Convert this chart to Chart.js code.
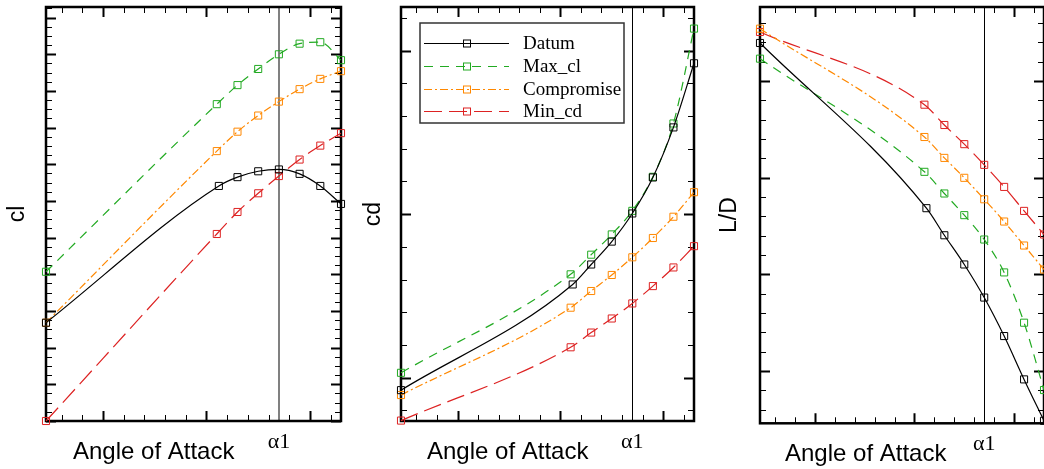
<!DOCTYPE html>
<html>
<head>
<meta charset="utf-8">
<script src="https://cdn.jsdelivr.net/npm/chart.js@4.4.1/dist/chart.umd.min.js"></script>
<style>
  html, body { margin: 0; padding: 0; background: #fff; overflow: hidden; }
  #wrap { position: relative; width: 1044px; height: 469px; overflow: hidden; }
  canvas { position: absolute; top: 0; }
</style>
</head>
<body>
<div id="wrap">
  <canvas id="clChart" width="350" height="469" style="left:0px"></canvas>
  <canvas id="cdChart" width="355" height="469" style="left:350px"></canvas>
  <canvas id="ldChart" width="345" height="469" style="left:705px"></canvas>
</div>
<script>
// Datos
const seriesNames = ['Datum', 'Max_cl', 'Compromise', 'Min_cd'];
const anglesDatum = [-2.75, 5.6, 6.5, 7.5, 8.5, 9.5, 10.5, 11.5];
const angles = [-2.75, 5.5, 6.5, 7.5, 8.5, 9.5, 10.5, 11.5];
const alpha1 = 8.5;
const alphaLabel = 'α1';
const xTitle = 'Angle of Attack';

const clDatum = [2.68, 6.41, 6.65, 6.81, 6.86, 6.74, 6.41, 5.92];
const clMax = [4.07, 8.64, 9.16, 9.60, 10.00, 10.29, 10.33, 9.84];
const clComp = [2.68, 7.36, 7.89, 8.33, 8.71, 9.05, 9.33, 9.54];
const clMinCd = [0.0, 5.10, 5.70, 6.21, 6.68, 7.13, 7.51, 7.85];

const cdDatum = [-0.38, 2.85, 3.46, 4.16, 5.02, 6.12, 7.65, 9.61];
const cdMax = [0.15, 3.16, 3.76, 4.38, 5.10, 6.14, 7.77, 10.67];
const cdComp = [-0.53, 2.14, 2.65, 3.14, 3.68, 4.27, 4.92, 5.67];
const cdMinCd = [-1.31, 0.93, 1.38, 1.81, 2.27, 2.80, 3.37, 4.02];

const ldDatum = [16.96, 8.42, 7.02, 5.51, 3.80, 1.81, -0.43, -2.57];
const ldMax = [16.15, 10.30, 9.18, 8.06, 6.80, 5.10, 2.50, -0.98];
const ldComp = [17.70, 12.10, 11.02, 9.99, 8.88, 7.73, 6.49, 5.25];
const ldMinCd = [17.53, 13.77, 12.72, 11.73, 10.66, 9.52, 8.28, 7.06];

// Marcas de los ejes
function range(a, b, step) {
    const out = [];
    for (let k = 0; a + k * step <= b + 1e-9; k++) out.push(a + k * step);
    return out;
}
const xMinorTicks = range(-2, 11, 1);
const xMajorTicks = [0, 5, 10];
const clMinorTicks = range(0, 11.25, 0.25);
const clMajorTicks = range(0, 11, 1);
const cdMinorTicks = range(-1, 11, 1);
const cdMajorTicks = [0, 5, 10];
const ldMinorTicks = range(-2, 18, 1);
const ldMajorTicks = [0, 5, 10, 15];

// Estilos
const colors = ['#000000', '#22aa22', '#ff8800', '#dd2222'];
const dashes = [[], [9, 7], [8, 3, 2, 3], [18, 7]];

// Marco, marcas hacia dentro y título del eje x
const marcoPlugin = {
    id: 'marco',
    beforeDatasetsDraw(chart, args, opts) {
        const { ctx, chartArea: a, scales: { x, y } } = chart;
        ctx.save();
        ctx.strokeStyle = '#000';
        x.ticks.forEach(t => {
            if (t.value === alpha1) return;
            const px = Math.round(x.getPixelForValue(t.value)) + 0.5;
            const len = t.major ? 10 : 6;
            ctx.lineWidth = t.major ? 2 : 1;
            ctx.beginPath();
            ctx.moveTo(px, a.top); ctx.lineTo(px, a.top + len);
            ctx.moveTo(px, a.bottom); ctx.lineTo(px, a.bottom - len);
            ctx.stroke();
        });
        y.ticks.forEach(t => {
            const py = Math.round(y.getPixelForValue(t.value)) + 0.5;
            const len = t.major ? 10 : 6;
            ctx.lineWidth = t.major ? 2 : 1;
            ctx.beginPath();
            ctx.moveTo(a.left, py); ctx.lineTo(a.left + len, py);
            ctx.moveTo(a.right, py); ctx.lineTo(a.right - len, py);
            ctx.stroke();
        });
        ctx.lineWidth = 2.5;
        ctx.strokeRect(a.left, a.top, a.right - a.left, a.bottom - a.top);
        ctx.restore();
    },
    afterDraw(chart, args, opts) {
        const { ctx, chartArea: a } = chart;
        ctx.save();
        ctx.fillStyle = '#000';
        ctx.font = '24px "Liberation Sans", Arial, sans-serif';
        ctx.textBaseline = 'alphabetic';
        ctx.textAlign = 'left';
        ctx.fillText(opts.title, a.left + opts.titleOffset, a.bottom + 37.5);
        ctx.restore();
    }
};

// Leyenda con recuadro
const leyendaPlugin = {
    id: 'leyenda',
    afterDraw(chart, args, opts) {
        if (!opts.show) return;
        const { ctx, chartArea: a } = chart;
        const bx = a.left + 19, by = a.top + 16, bw = 204, bh = 100;
        ctx.save();
        ctx.fillStyle = '#fff';
        ctx.fillRect(bx, by, bw, bh);
        chart.data.datasets.forEach((ds, i) => {
            const cy = Math.round(by + 20.3 + i * 22.7) + 0.5;
            ctx.strokeStyle = ds.borderColor;
            ctx.lineWidth = 1.2;
            ctx.setLineDash(ds.borderDash);
            ctx.beginPath();
            ctx.moveTo(bx + 4, cy); ctx.lineTo(bx + 89, cy);
            ctx.stroke();
            ctx.setLineDash([]);
            ctx.lineWidth = 1;
            ctx.strokeRect(Math.round(bx + 46.5) - 3.5, cy - 3.5, 7, 7);
            ctx.fillStyle = '#000';
            ctx.font = '19px "Liberation Serif", "Times New Roman", serif';
            ctx.textBaseline = 'middle';
            ctx.fillText(ds.label, bx + 103, cy + 1);
        });
        ctx.lineWidth = 1.5;
        ctx.strokeStyle = '#333';
        ctx.strokeRect(bx, by, bw, bh);
        ctx.restore();
    }
};

function crearGrafico(id, cfg) {
    const ctx = document.getElementById(id).getContext('2d');
    const datasets = seriesNames.map((name, i) => ({
        label: name,
        data: (i === 0 ? anglesDatum : angles).map((a, k) => ({ x: a, y: cfg.series[i][k] })),
        borderColor: colors[i],
        borderDash: dashes[i],
        borderWidth: 1.2,
        pointStyle: 'rect',
        pointRadius: 5,
        pointBorderWidth: 1,
        pointBackgroundColor: 'rgba(0,0,0,0)',
        pointBorderColor: colors[i],
        cubicInterpolationMode: 'monotone',
        clip: 6,
        fill: false
    }));
    return new Chart(ctx, {
        type: 'line',
        data: { datasets: datasets },
        plugins: [marcoPlugin, leyendaPlugin],
        options: {
            responsive: false,
            maintainAspectRatio: false,
            animation: false,
            devicePixelRatio: 1,
            layout: { padding: cfg.padding },
            plugins: {
                legend: { display: false },
                tooltip: { enabled: false },
                marco: { title: xTitle, titleOffset: cfg.titleOffset },
                leyenda: { show: cfg.legend }
            },
            scales: {
                x: {
                    type: 'linear',
                    min: -2.75,
                    max: 11.5,
                    afterBuildTicks: s => {
                        s.ticks = xMinorTicks.concat([alpha1]).map(v => ({ value: v, major: xMajorTicks.includes(v) }));
                    },
                    grid: {
                        drawTicks: false,
                        color: c => (c.tick && c.tick.value === alpha1) ? cfg.alphaColor : 'rgba(0,0,0,0)',
                        lineWidth: c => (c.tick && c.tick.value === alpha1) ? cfg.alphaWidth : 0
                    },
                    border: { display: false },
                    ticks: {
                        autoSkip: false,
                        maxRotation: 0,
                        minRotation: 0,
                        padding: 8,
                        color: '#000',
                        font: { family: '"Liberation Serif", "Times New Roman", serif', size: 22 },
                        callback: v => v === alpha1 ? alphaLabel : ''
                    }
                },
                y: {
                    min: cfg.yMin,
                    max: cfg.yMax,
                    afterBuildTicks: s => {
                        s.ticks = cfg.yMinor.map(v => ({ value: v, major: cfg.yMajor.includes(v) }));
                    },
                    grid: { display: false, drawTicks: false },
                    border: { display: false },
                    ticks: { display: false },
                    title: {
                        display: true,
                        text: cfg.yTitle,
                        color: '#000',
                        font: { family: '"Liberation Sans", Arial, sans-serif', size: 23 },
                        padding: cfg.titlePadding
                    }
                }
            }
        }
    });
}

// Gráfico de cl
crearGrafico('clChart', {
    series: [clDatum, clMax, clComp, clMinCd],
    yTitle: 'cl', yMin: 0, yMax: 11.29,
    yMinor: clMinorTicks, yMajor: clMajorTicks,
    padding: { left: 0, right: 9, top: 7, bottom: 5.6 },
    titlePadding: { top: 3.7, bottom: 14.7 },
    alphaColor: '#808080', alphaWidth: 2,
    titleOffset: 27, legend: false
});

// Gráfico de cd
crearGrafico('cdChart', {
    series: [cdDatum, cdMax, cdComp, cdMinCd],
    yTitle: 'cd', yMin: -1.323, yMax: 11.33,
    yMinor: cdMinorTicks, yMajor: cdMajorTicks,
    padding: { left: 0, right: 11, top: 7, bottom: 5.6 },
    titlePadding: { top: 10.2, bottom: 13.2 },
    alphaColor: '#000', alphaWidth: 1,
    titleOffset: 26, legend: true
});

// Gráfico de L/D
crearGrafico('ldChart', {
    series: [ldDatum, ldMax, ldComp, ldMinCd],
    yTitle: 'L/D', yMin: -2.70, yMax: 18.82,
    yMinor: ldMinorTicks, yMajor: ldMajorTicks,
    padding: { left: 0, right: 4, top: 7, bottom: 3.3 },
    titlePadding: { top: 11.2, bottom: 16.2 },
    alphaColor: '#000', alphaWidth: 1,
    titleOffset: 25, legend: false
});
</script>
</body>
</html>
